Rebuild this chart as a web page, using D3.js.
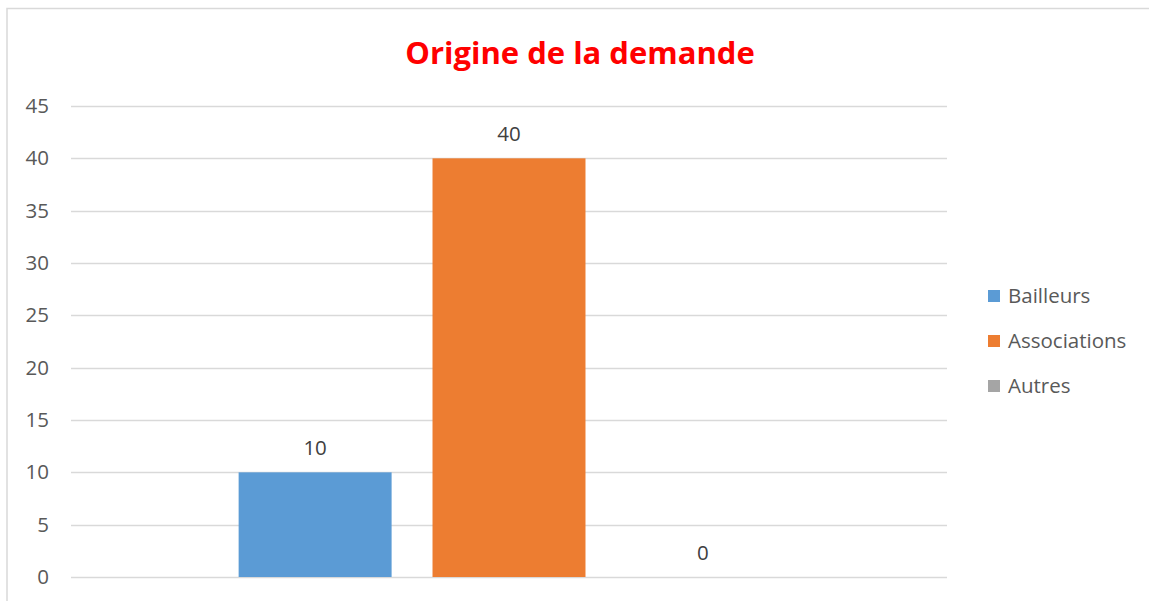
<!DOCTYPE html>
<html>
<head>
<meta charset="utf-8">
<script src="https://cdn.jsdelivr.net/npm/d3@7"></script>
<style>
  body { margin: 0; background: #fff; }
  text { font-family: "Open Sans", sans-serif; }
</style>
</head>
<body>
<div id="chartContainer"></div>
<script>
// data
const categories = [""];
const seriesNames = ["Bailleurs", "Associations", "Autres"];
const seriesValues = [10, 40, 0];
const seriesColors = ["#5B9BD5", "#ED7D31", "#A5A5A5"];
const yTicks = [0, 5, 10, 15, 20, 25, 30, 35, 40, 45];
const title = "Origine de la demande";

const width = 1149;
const height = 601;
const marginLeft = 71;
const marginRight = 202;
const marginTop = 106;
const marginBottom = 24;
const labelSize = 20.5;

const svg = d3.create("svg")
    .attr("width", width)
    .attr("height", height)
    .attr("viewBox", [0, 0, width, height]);

// chart frame
svg.append("path")
    .attr("d", `M7,${height} V8.5 H${width}`)
    .attr("fill", "none")
    .attr("stroke", "#D9D9D9")
    .attr("stroke-width", 1.5);

const x0 = d3.scaleBand()
    .domain(categories)
    .range([marginLeft, width - marginRight])
    .paddingInner(0)
    .paddingOuter(0.31);

const x1 = d3.scaleBand()
    .domain(seriesNames)
    .range([0, x0.bandwidth()])
    .paddingInner(0.211)
    .paddingOuter(0);

const y = d3.scaleLinear()
    .domain([0, 45])
    .range([height - marginBottom, marginTop]);

// gridlines
svg.append("g")
    .selectAll("line")
    .data(yTicks)
    .join("line")
    .attr("x1", marginLeft)
    .attr("x2", width - marginRight)
    .attr("y1", d => Math.round(y(d)) + 0.5)
    .attr("y2", d => Math.round(y(d)) + 0.5)
    .attr("stroke", "#D9D9D9")
    .attr("stroke-width", 1.5);

// y axis labels
const yAxis = svg.append("g")
    .attr("transform", `translate(${marginLeft - 22},0)`)
    .call(d3.axisLeft(y).tickValues(yTicks).tickSize(0).tickPadding(0));
yAxis.select(".domain").remove();
yAxis.selectAll("text")
    .attr("font-family", "Open Sans, sans-serif")
    .attr("font-size", labelSize)
    .attr("fill", "#595959");

const bars = seriesNames.map((name, i) => ({ name, value: seriesValues[i], color: seriesColors[i] }));

const group = svg.append("g")
    .attr("transform", `translate(${x0(categories[0])},0)`);

group.selectAll("rect")
    .data(bars)
    .join("rect")
    .attr("x", d => x1(d.name))
    .attr("y", d => y(d.value))
    .attr("width", x1.bandwidth())
    .attr("height", d => y(0) - y(d.value))
    .attr("fill", d => d.color);

group.selectAll("text")
    .data(bars)
    .join("text")
    .attr("x", d => x1(d.name) + x1.bandwidth() / 2)
    .attr("y", d => y(d.value) - 17)
    .attr("text-anchor", "middle")
    .attr("font-size", labelSize)
    .attr("fill", "#404040")
    .text(d => d.value);

// title
svg.append("text")
    .attr("x", 580)
    .attr("y", 64)
    .attr("text-anchor", "middle")
    .attr("font-size", 31)
    .attr("font-weight", "bold")
    .attr("fill", "#FF0000")
    .text(title);

// legend
const legend = svg.append("g")
    .attr("transform", "translate(988,296)");

const items = legend.selectAll("g")
    .data(bars)
    .join("g")
    .attr("transform", (d, i) => `translate(0,${i * 45})`);

items.append("rect")
    .attr("x", 0)
    .attr("y", -6)
    .attr("width", 12)
    .attr("height", 12)
    .attr("fill", d => d.color);

items.append("text")
    .attr("x", 20)
    .attr("y", 0)
    .attr("dy", "0.35em")
    .attr("font-size", labelSize)
    .attr("fill", "#595959")
    .text(d => d.name);

document.getElementById("chartContainer").appendChild(svg.node());
</script>
</body>
</html>
